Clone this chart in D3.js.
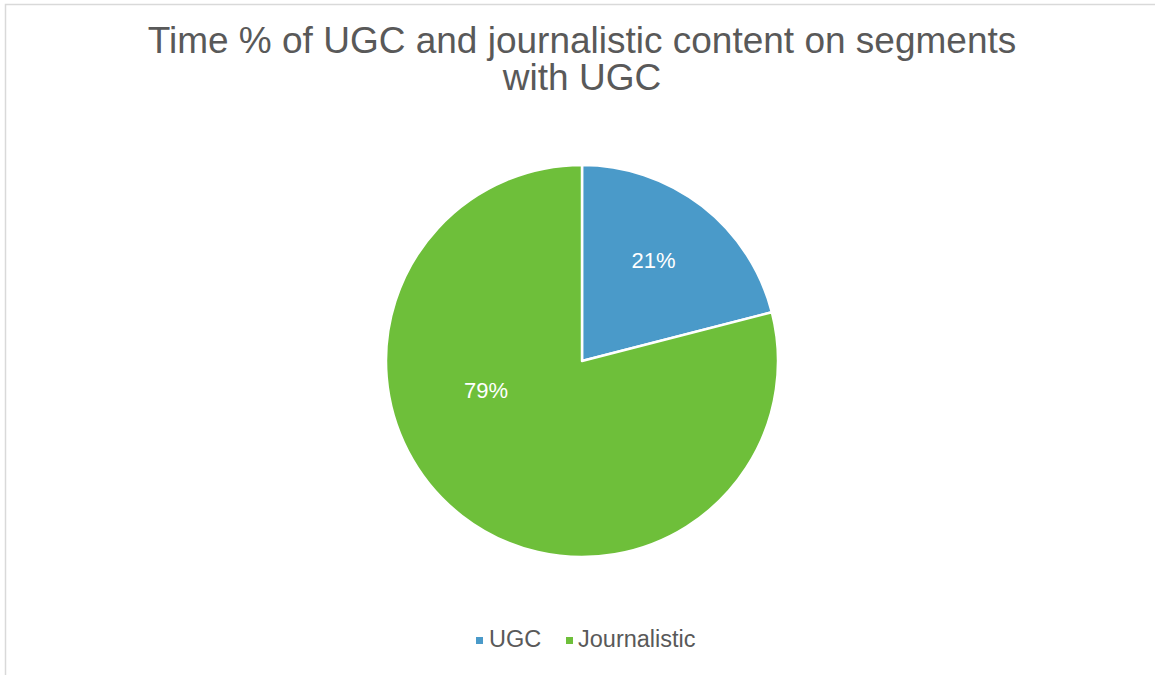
<!DOCTYPE html>
<html>
<head>
<meta charset="utf-8">
<script src="https://cdn.jsdelivr.net/npm/d3@7"></script>
<style>
  html, body { margin: 0; padding: 0; background: #fff; }
  svg { display: block; font-family: "Liberation Sans", Arial, Helvetica, sans-serif; }
</style>
</head>
<body>
<svg id="chart" width="1155" height="675"></svg>
<script>
// Share of airtime on segments that contain UGC
const categories = ["UGC", "Journalistic"];
const shares = [21, 79];
const labels = ["21%", "79%"];
const colors = ["#4a9ac9", "#6ebf3a"];
const titleLines = ["Time % of UGC and journalistic content on segments", "with UGC"];

// Label placement inside each slice: angle (deg, clockwise from top) and fraction of radius
const labelAngles = [35.3, 253.2];
const labelRadii = [0.631, 0.512];

const width = 1155, height = 675;
const cx = 582, cy = 361, radius = 196;

const svg = d3.select("#chart");

// Frame
svg.append("rect")
  .attr("x", 5.5).attr("y", 4.5)
  .attr("width", width + 10).attr("height", height + 10)
  .attr("fill", "#fff")
  .attr("stroke", "#d9d9d9")
  .attr("stroke-width", 1.5);

// Title
svg.append("text")
  .attr("x", cx).attr("y", 53)
  .attr("text-anchor", "middle")
  .attr("fill", "#595959")
  .attr("font-size", 37)
  .selectAll("tspan")
  .data(titleLines)
  .join("tspan")
  .attr("x", cx)
  .attr("dy", (d, i) => i === 0 ? 0 : 37)
  .text(d => d);

const data = categories.map((c, i) => ({ name: c, value: shares[i], label: labels[i], color: colors[i] }));

const pie = d3.pie().value(d => d.value).sort(null);
const arc = d3.arc().innerRadius(0).outerRadius(radius);

const g = svg.append("g").attr("transform", `translate(${cx},${cy})`);
const arcs = pie(data);

g.selectAll("path")
  .data(arcs)
  .join("path")
  .attr("d", arc)
  .attr("fill", d => d.data.color)
  .attr("stroke", "#fff")
  .attr("stroke-width", 2.5)
  .attr("stroke-linejoin", "round");

g.selectAll("text.val")
  .data(arcs)
  .join("text")
  .attr("class", "val")
  .attr("x", (d, i) => Math.sin(labelAngles[i] * Math.PI / 180) * radius * labelRadii[i])
  .attr("y", (d, i) => -Math.cos(labelAngles[i] * Math.PI / 180) * radius * labelRadii[i])
  .attr("dy", "0.35em")
  .attr("text-anchor", "middle")
  .attr("fill", "#fff")
  .attr("font-size", 22)
  .text(d => d.data.label);

// Legend
const legendItems = [
  { x: 476, textX: 489 },
  { x: 566, textX: 578 }
];
const legend = svg.append("g");
data.forEach((d, i) => {
  legend.append("rect")
    .attr("x", legendItems[i].x).attr("y", 637)
    .attr("width", 7).attr("height", 7)
    .attr("fill", d.color);
  legend.append("text")
    .attr("x", legendItems[i].textX).attr("y", 647)
    .attr("fill", "#595959")
    .attr("font-size", 23.5)
    .text(d.name);
});
</script>
</body>
</html>
